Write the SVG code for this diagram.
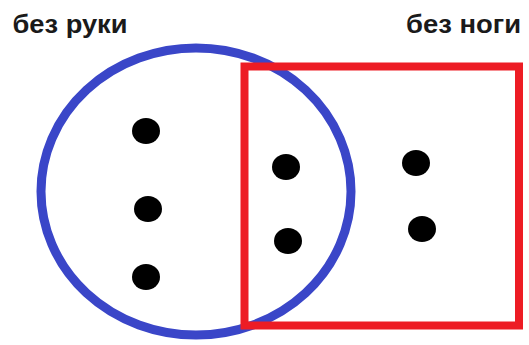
<svg xmlns="http://www.w3.org/2000/svg" width="529" height="345" viewBox="0 0 529 345">
<style>
.lbl{font-family:"Liberation Sans",Arial,sans-serif;font-weight:bold;font-size:26px;fill:#1a1a1a}
.dot{fill:#000}
</style>
<rect width="529" height="345" fill="#fff"/>
<g id="set-no-arm">
<ellipse cx="196" cy="191.5" rx="155" ry="143.5" fill="none" stroke="#3A46C8" stroke-width="9"/>
<text class="lbl" x="12.5" y="33" textLength="115" lengthAdjust="spacingAndGlyphs">без руки</text>
</g>
<g id="set-no-leg">
<rect x="244.5" y="66.5" width="274.5" height="259" fill="none" stroke="#ED1C24" stroke-width="8"/>
<text class="lbl" x="406" y="33" textLength="115" lengthAdjust="spacingAndGlyphs">без ноги</text>
</g>
<g id="dots">
<ellipse class="dot" cx="146" cy="131" rx="14" ry="13"/>
<ellipse class="dot" cx="148" cy="209" rx="14" ry="13"/>
<ellipse class="dot" cx="146" cy="277" rx="14" ry="13"/>
<ellipse class="dot" cx="286" cy="167" rx="14" ry="13"/>
<ellipse class="dot" cx="288" cy="241" rx="14" ry="13"/>
<ellipse class="dot" cx="416" cy="163" rx="14" ry="13"/>
<ellipse class="dot" cx="422" cy="229" rx="14" ry="13"/>
</g>
<g id="connectors"/>
</svg>
